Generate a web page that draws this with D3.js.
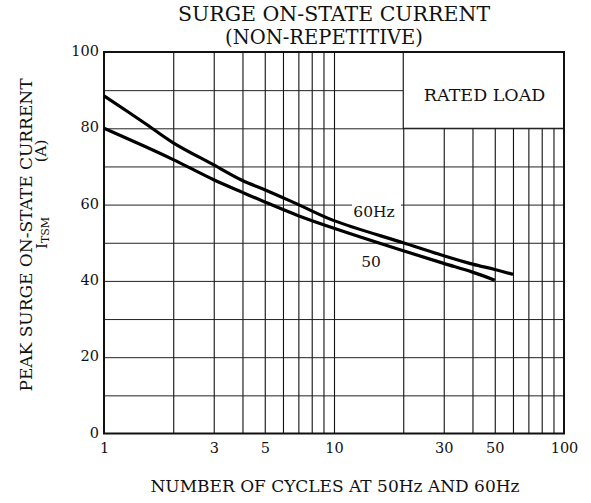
<!DOCTYPE html>
<html>
<head>
<meta charset="utf-8">
<script src="https://cdn.jsdelivr.net/npm/d3@7"></script>
<style>
  html, body { margin: 0; padding: 0; background: #fff; }
  svg { display: block; }
  text { font-family: "DejaVu Serif", "Liberation Serif", serif; fill: #111; }
</style>
</head>
<body>
<svg id="chart" width="591" height="503"></svg>
<script>
// ---- data ----
const cycles60  = [1, 1.5, 2, 3, 4, 5, 7, 10, 20, 30, 40, 50, 60];
const current60 = [88.5, 81.4, 76.2, 70.4, 66.3, 63.9, 60.0, 55.8, 50.0, 46.6, 44.4, 43.0, 41.7];
const cycles50  = [1, 1.5, 2, 3, 4, 5, 7, 10, 20, 30, 40, 50];
const current50 = [80.0, 75.3, 71.8, 66.5, 63.2, 60.7, 57.1, 53.8, 47.9, 44.6, 42.3, 40.2];
const xGridValues = [2, 3, 4, 5, 6, 7, 8, 9, 10, 20, 30, 40, 50, 60, 70, 80, 90];
const yGridValues = [10, 20, 30, 40, 50, 60, 70, 80, 90];
const xTickLabels = [1, 3, 5, 10, 30, 50, 100];
const yTickLabels = [0, 20, 40, 60, 80, 100];
const seriesLabels = ["60Hz", "50"];
const titleLines = ["SURGE ON-STATE CURRENT", "(NON-REPETITIVE)"];
const xTitle = "NUMBER OF CYCLES AT 50Hz AND 60Hz";
const yTitle = "PEAK SURGE ON-STATE CURRENT";
const boxLabel = "RATED LOAD";

// ---- layout ----
const L = 104, R = 564, T = 52, B = 433.5;
const svg = d3.select("#chart");

const x = d3.scaleLog().domain([1, 100]).range([L, R]);
const y = d3.scaleLinear().domain([0, 100]).range([B, T]);

// grid via axes
svg.append("g")
  .attr("transform", `translate(0,${B})`)
  .call(d3.axisBottom(x).tickValues(xGridValues).tickSize(-(B - T)).tickFormat(""))
  .call(g => g.select(".domain").remove())
  .call(g => g.selectAll("line").attr("stroke", "#111").attr("stroke-width", 1.1));

svg.append("g")
  .attr("transform", `translate(${L},0)`)
  .call(d3.axisLeft(y).tickValues(yGridValues).tickSize(-(R - L)).tickFormat(""))
  .call(g => g.select(".domain").remove())
  .call(g => g.selectAll("line").attr("stroke", "#222").attr("stroke-width", 1));

// RATED LOAD box
svg.append("rect")
  .attr("x", x(20)).attr("y", y(100))
  .attr("width", x(100) - x(20)).attr("height", y(80) - y(100))
  .attr("fill", "#fff").attr("stroke", "#111").attr("stroke-width", 1.1);
svg.append("text")
  .attr("x", (x(20) + x(100)) / 2 + 1).attr("y", 101)
  .attr("text-anchor", "middle").attr("font-size", 17.5)
  .text(boxLabel);

// frame
svg.append("rect")
  .attr("x", L).attr("y", T).attr("width", R - L).attr("height", B - T)
  .attr("fill", "none").attr("stroke", "#111").attr("stroke-width", 2);

// series label backgrounds + labels
svg.append("rect").attr("x", 352).attr("y", 200).attr("width", 49).attr("height", 21).attr("fill", "#fff");
svg.append("text").attr("x", 374).attr("y", 217).attr("text-anchor", "middle")
  .attr("font-size", 15.5).text(seriesLabels[0]);
svg.append("text").attr("x", 371).attr("y", 267).attr("text-anchor", "middle")
  .attr("font-size", 15.5).text(seriesLabels[1]);

// curves
const line = d3.line().x(d => x(d[0])).y(d => y(d[1])).curve(d3.curveCatmullRom.alpha(0.5));
const s60 = cycles60.map((c, i) => [c, current60[i]]);
const s50 = cycles50.map((c, i) => [c, current50[i]]);
[s60, s50].forEach(s => {
  svg.append("path").datum(s).attr("d", line)
    .attr("fill", "none").attr("stroke", "#000").attr("stroke-width", 3.2)
    .attr("stroke-linejoin", "round");
});

// tick labels via axes
svg.append("g")
  .attr("transform", `translate(0,${B})`)
  .call(d3.axisBottom(x).tickValues(xTickLabels).tickSize(0).tickPadding(9).tickFormat(d3.format("d")))
  .call(g => g.select(".domain").remove())
  .call(g => g.selectAll("text").attr("font-size", 14.5).attr("font-family", "DejaVu Serif").attr("fill", "#111"));

svg.append("g")
  .attr("transform", `translate(${L},0)`)
  .call(d3.axisLeft(y).tickValues(yTickLabels).tickSize(0).tickPadding(5).tickFormat(d3.format("d")))
  .call(g => g.select(".domain").remove())
  .call(g => g.selectAll("text").attr("font-size", 14.5).attr("font-family", "DejaVu Serif").attr("fill", "#111").attr("dy", "0.25em"));

// titles
svg.append("text").attr("x", 334).attr("y", 21).attr("text-anchor", "middle")
  .attr("font-size", 20.5).text(titleLines[0]);
svg.append("text").attr("x", 324).attr("y", 44).attr("text-anchor", "middle")
  .attr("font-size", 19.5).text(titleLines[1]);

svg.append("text").attr("x", 335).attr("y", 492).attr("text-anchor", "middle")
  .attr("font-size", 17).text(xTitle);

// y title
svg.append("text").attr("transform", "translate(32,235) rotate(-90)")
  .attr("text-anchor", "middle").attr("font-size", 17).text(yTitle);
const yt2 = svg.append("text").attr("transform", "translate(47,0) rotate(-90)")
  .attr("x", -249).attr("font-size", 15);
yt2.append("tspan").text("I");
yt2.append("tspan").attr("font-size", 11).attr("dy", 2).text("TSM");
svg.append("text").attr("transform", "translate(46,0) rotate(-90)")
  .attr("x", -151).attr("text-anchor", "middle").attr("font-size", 15).text("(A)");
</script>
</body>
</html>
